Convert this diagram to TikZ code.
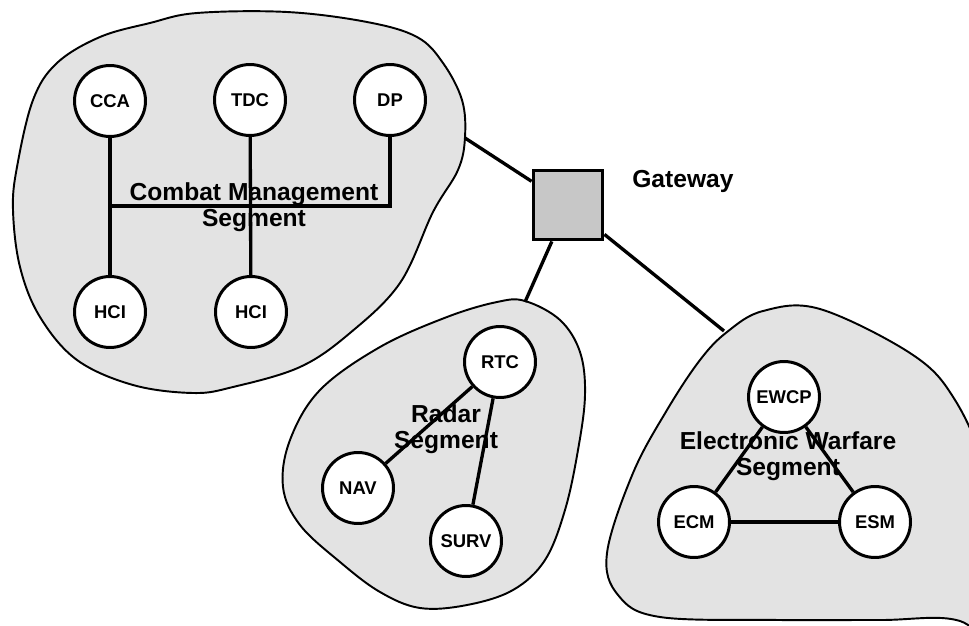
\documentclass[tikz,border=0pt]{standalone}
\usepackage{fontspec}
\setmainfont{Liberation Sans}
\usepackage{tikz}
\usetikzlibrary{positioning}
\definecolor{segfill}{gray}{0.89}
\definecolor{gatefill}{gray}{0.78}
\tikzset{
    segment/.style={draw=black, line width=1.1pt, fill=segfill},
    unit/.style={circle, draw=black, line width=1.7pt, fill=white, minimum size=1.42cm, inner sep=0pt, font=\fontsize{10.5}{12}\selectfont\bfseries},
    gatebox/.style={rectangle, draw=black, line width=2.2pt, fill=gatefill, minimum size=1.38cm, inner sep=0pt},
    link/.style={line width=1.9pt, draw=black},
    seglabel/.style={align=center, inner sep=0pt, font=\fontsize{14}{15}\selectfont\bfseries}
}

\begin{document}
\begin{tikzpicture}[x=0.02cm, y=-0.02cm]
    \useasboundingbox (0,0) rectangle (969,625);
    \clip (0,0) rectangle (969,625);
    % segment outlines
    \draw[segment] plot[smooth cycle, tension=0.6] coordinates {(197,13) (287,12) (367,22) (417,37) (443,63) (462,100) (465,137) (458,170) (433,212) (400,283) (350,333) (300,367) (233,387) (193,393) (133,385) (77,360) (40,317) (20,267) (13,210) (17,167) (33,100) (57,63) (100,37) (150,23)}; % combat management
    \draw[segment] plot[smooth cycle, tension=0.6] coordinates {(497,302) (525,301) (560,320) (580,352) (585,395) (578,450) (565,510) (545,560) (513,590) (467,605) (420,608) (380,592) (340,562) (300,525) (283,487) (290,440) (320,390) (380,347) (447,317)}; % radar
    \draw[segment] plot[smooth cycle, tension=0.6] coordinates {(727,332) (763,311) (820,309) (913,355) (955,400) (985,470) (1000,560) (1010,660) (960,621) (880,620) (780,620) (660,617) (618,595) (607,553) (633,473) (667,410) (700,360)}; % electronic warfare
    \coordinate (cmsedge) at (465,138);
    \coordinate (radedge) at (525,302);
    \coordinate (ewedge) at (724,331);
    \coordinate (busy) at (0,206);
    % combat management units
    \node[unit] (cca) at (110,101) {CCA};
    \node[unit] (tdc) at (250,100) {TDC};
    \node[unit] (dp) at (390,100) {DP};
    \node[unit] (hcia) at (110,312) {HCI};
    \node[unit] (hcib) at (251,312) {HCI};
    \draw[link] (cca) -- (hcia);
    \draw[link] (tdc) -- (hcib);
    \draw[link] (dp) |- (cca |- busy);
    % radar units
    \node[unit] (rtc) at (500,362) {RTC};
    \node[unit] (nav) at (358,488) {NAV};
    \node[unit] (surv) at (466,541) {SURV};
    \draw[link] (rtc) -- (nav);
    \draw[link] (rtc) -- (surv);
    % electronic warfare units
    \node[unit] (ewcp) at (784,397) {EWCP};
    \node[unit] (ecm) at (694,522) {ECM};
    \node[unit] (esm) at (875,522) {ESM};
    \draw[link] (ewcp) -- (ecm);
    \draw[link] (ewcp) -- (esm);
    \draw[link] (ecm) -- (esm);
    % gateway
    \node[gatebox] (gw) at (568,205) {};
    \node[seglabel, anchor=base west] (gwlabel) at (632,187) {Gateway};
    \draw[link] (cmsedge) -- (gw);
    \draw[link] (gw) -- (radedge);
    \draw[link] (gw) -- (ewedge);
    % segment names
    \node[seglabel] (cmslabel) at (254,207) {Combat Management\\Segment};
    \node[seglabel] (radlabel) at (446,429) {Radar\\Segment};
    \node[seglabel] (ewlabel) at (788,456) {Electronic Warfare\\Segment};
\end{tikzpicture}
\end{document}
